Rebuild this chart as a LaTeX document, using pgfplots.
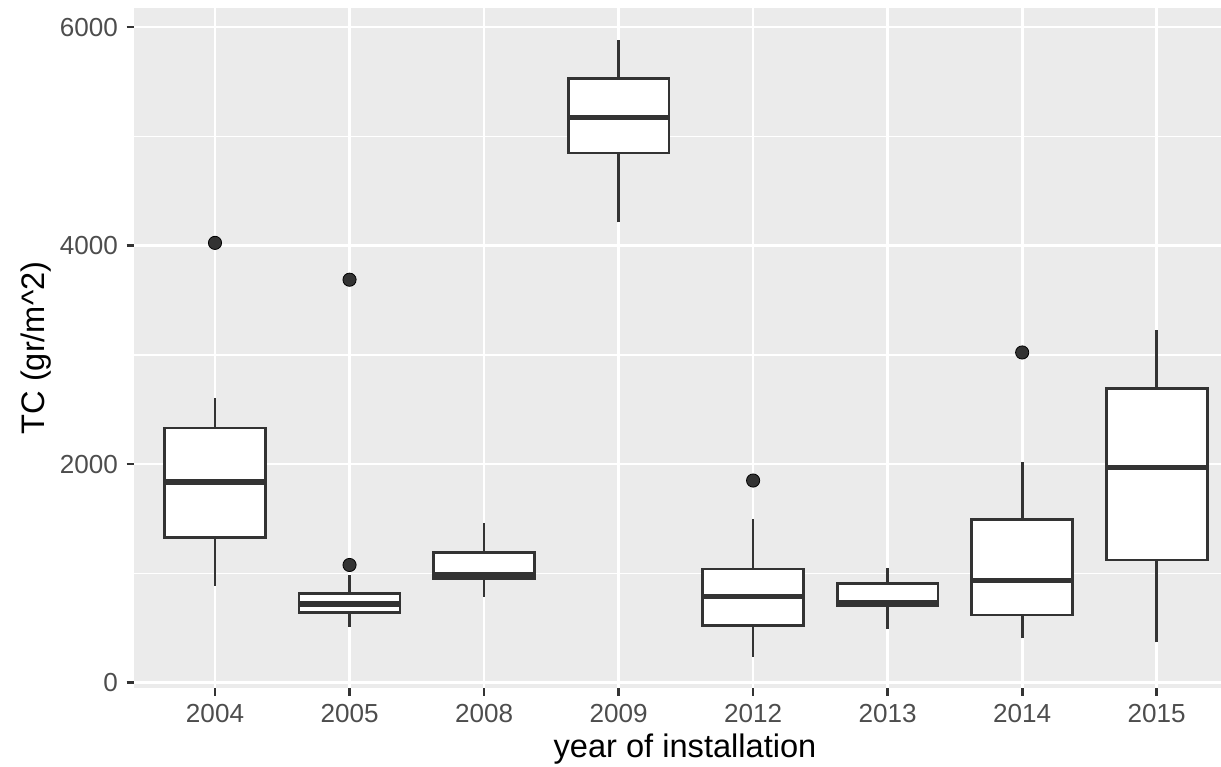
\documentclass[border=0pt]{standalone}
\usepackage{fontspec}
\setmainfont{Liberation Sans}
\usepackage{pgfplots}
\pgfplotsset{compat=1.18}
\usetikzlibrary{calc}

\definecolor{panelbg}{HTML}{EBEBEB}
\definecolor{ink}{HTML}{333333}
\definecolor{ticktext}{HTML}{4D4D4D}

\pgfplotsset{
  whisk/.style={draw=ink, line width=1.35bp, no marks},
  boxs/.style={draw=ink, fill=white, line width=1.35bp, no marks},
  med/.style={draw=ink, line width=2.7bp, no marks},
}

% one box: position, lower whisker, Q1, median, Q3, upper whisker
\newcommand\ggboxplot[6]{%
  \pgfmathsetmacro\bl{#1-0.375}%
  \pgfmathsetmacro\br{#1+0.375}%
  \edef\doit{%
    \noexpand\addplot[whisk] coordinates {(#1,#2) (#1,#3)};
    \noexpand\addplot[whisk] coordinates {(#1,#5) (#1,#6)};
    \noexpand\addplot[boxs] coordinates {(\bl,#3) (\br,#3) (\br,#5) (\bl,#5)} -- cycle;
    \noexpand\addplot[med] coordinates {(\bl,#4) (\br,#4)};
  }\doit
}

\begin{document}
\begin{tikzpicture}
\begin{axis}[
  scale only axis,
  width=543.35bp, height=340bp,
  xmin=0.4, xmax=8.478,
  ymin=-49, ymax=6175,
  axis background/.style={fill=panelbg},
  axis line style={draw=none},
  xtick={1,2,3,4,5,6,7,8},
  xticklabels={2004,2005,2008,2009,2012,2013,2014,2015},
  ytick={0,2000,4000,6000},
  yticklabels={0,2000,4000,6000},
  minor ytick={1000,3000,5000},
  grid=both,
  major grid style={white, line width=1.35bp},
  minor grid style={white, line width=0.7bp},
  tick align=outside, tick pos=left,
  major tick length=3.8bp,
  major tick style={ink, line width=1.35bp},
  minor tick style={draw=none},
  tick label style={font=\fontsize{13.05bp}{15bp}\selectfont, text=ticktext, inner sep=0pt},
  xticklabel style={yshift=-4.3bp},
  yticklabel style={xshift=-4.2bp},
  label style={font=\fontsize{16.3bp}{19bp}\selectfont, text=black, inner sep=0pt},
  xlabel={year of installation},
  ylabel={TC (gr/m\textasciicircum 2)},
  xlabel style={at={(axis description cs:0.5068,-0.1029)}, anchor=base},
  ylabel style={at={(axis description cs:-0.0760,0.5)}, anchor=south},
]
\coordinate (ll) at (rel axis cs:0,0);
\coordinate (ur) at (rel axis cs:1,1);

\ggboxplot{1}{885}{1331}{1835}{2330}{2605}   % 2004
\ggboxplot{2}{512}{644}{720}{818}{986}       % 2005
\ggboxplot{3}{787}{952}{986}{1194}{1459}     % 2008
\ggboxplot{4}{4213}{4849}{5170}{5530}{5881}  % 2009
\ggboxplot{5}{237}{521}{787}{1041}{1496}     % 2012
\ggboxplot{6}{491}{705}{736}{910}{1047}      % 2013
\ggboxplot{7}{406}{619}{934}{1496}{2018}     % 2014
\ggboxplot{8}{369}{1123}{1969}{2690}{3230}   % 2015

% outliers
\addplot[only marks, mark=*, mark size=3.3bp, mark options={draw=none, fill=ink}]
  coordinates {(1,4025) (2,1077) (2,3688) (5,1850) (7,3022)};
\end{axis}
\pgfresetboundingbox
\path[use as bounding box] ($(ll)+(-67.15bp,-39.5bp)$) rectangle ($(ur)+(0bp,4bp)$);
\end{tikzpicture}
\end{document}
